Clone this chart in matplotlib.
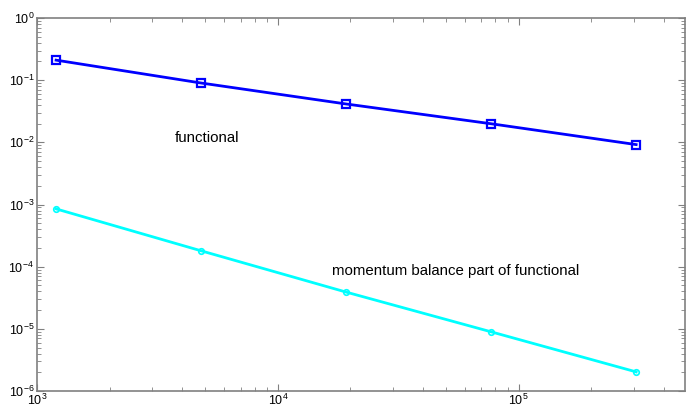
import matplotlib.pyplot as plt

# number of unknowns (grid refinement, factor 4 each step)
n_dof = [1200, 4800, 19200, 76800, 307200]
err_functional = [0.21, 0.090, 0.0414, 0.0199, 0.0092]
err_momentum = [8.5e-4, 1.8e-4, 3.9e-5, 8.95e-6, 2.03e-6]

plt.rcParams['font.family'] = ['Liberation Sans', 'DejaVu Sans']
plt.rcParams['mathtext.fontset'] = 'custom'
plt.rcParams['mathtext.rm'] = 'Liberation Sans'

fig = plt.figure(figsize=(6.86, 4.09), dpi=100)
ax = fig.add_axes([37 / 686, 1 - 391 / 409, 648 / 686, 373 / 409])

ax.loglog(n_dof, err_functional, color='blue', lw=2.0, marker='s',
          ms=6, mfc='none', mec='blue', mew=1.6)
ax.loglog(n_dof, err_momentum, color='cyan', lw=2.0, marker='o',
          ms=4, mfc='none', mec='cyan', mew=1.2)

ax.set_xlim(1e3, 4.9e5)
ax.set_ylim(1e-6, 1)

ax.text(3.74e3, 0.0116, 'functional', fontsize=10.8, va='center')
ax.text(1.67e4, 8.5e-5, 'momentum balance part of functional',
        fontsize=10.8, va='center')

for s in ax.spines.values():
    s.set_color('#808080')
    s.set_linewidth(1.2)
ax.tick_params(which='both', direction='in', top=True, right=True,
               color='#808080', labelsize=9, labelcolor='black')
ax.tick_params(which='major', length=5)
ax.tick_params(which='minor', length=3)
ax.tick_params(axis='x', pad=1.5)
ax.tick_params(axis='y', pad=2)

fig.savefig('out.png', dpi=100)
